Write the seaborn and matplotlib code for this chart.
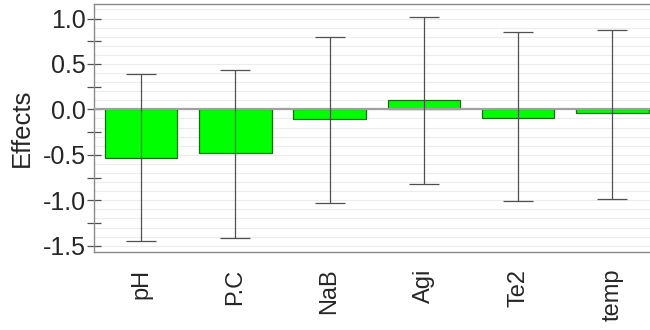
import matplotlib
matplotlib.use("Agg")
import matplotlib.pyplot as plt
import numpy as np
import pandas as pd
import seaborn as sns
from matplotlib.ticker import MultipleLocator

# Factor effects with their confidence limits
factors = ["pH", "P.C", "NaB", "Agi", "Te2", "temp"]
effects = [-0.53, -0.48, -0.11, 0.10, -0.10, -0.045]
upper = [0.39, 0.43, 0.80, 1.02, 0.85, 0.87]
lower = [-1.45, -1.41, -1.03, -0.82, -1.01, -0.99]

df = pd.DataFrame({"factor": factors, "effect": effects})

sns.set_theme(style="white")
plt.rcParams["font.family"] = ["Liberation Sans", "DejaVu Sans"]

fig = plt.figure(figsize=(6.5, 3.3), dpi=100)
ax = fig.add_axes([0.1446, 0.236, 0.87, 0.752])

# fine horizontal grid behind everything
ax.set_axisbelow(True)
ax.yaxis.set_minor_locator(MultipleLocator(0.25))
for g in np.arange(-1.5, 1.2, 0.1):
    ax.axhline(g, color="#ececec", lw=0.8, zorder=0)

sns.barplot(data=df, x="factor", y="effect", color="#00ff00",
            saturation=1, width=0.77, edgecolor="#1a6a1a", linewidth=0.9,
            ax=ax, zorder=2)

ax.axhline(0, color="#a0a0a0", lw=1.6, zorder=3)

eff = np.array(effects)
yerr = np.vstack([eff - np.array(lower), np.array(upper) - eff])
ax.errorbar(np.arange(len(factors)), eff, yerr=yerr, fmt="none",
            ecolor="#505050", elinewidth=0.9, capsize=11, capthick=0.9,
            zorder=4)

ax.set_xlim(-0.5, 5.5)
ax.set_ylim(-1.57, 1.16)
ax.set_yticks([-1.5, -1.0, -0.5, 0.0, 0.5, 1.0])
ax.set_yticklabels(["-1.5", "-1.0", "-0.5", "0.0", "0.5", "1.0"])
ax.tick_params(axis="y", which="both", direction="inout", length=10,
               width=0.9, color="#505050", left=True, labelsize=18,
               pad=1)
ax.tick_params(axis="x", bottom=False, labelsize=17, rotation=90, pad=6)
ax.set_xlabel("")
ax.set_ylabel("Effects", fontsize=18.5, labelpad=6)

for side in ["top", "bottom", "left", "right"]:
    ax.spines[side].set_color("#8a8a8a")
    ax.spines[side].set_linewidth(1.0)

fig.savefig("out.png", dpi=100)
